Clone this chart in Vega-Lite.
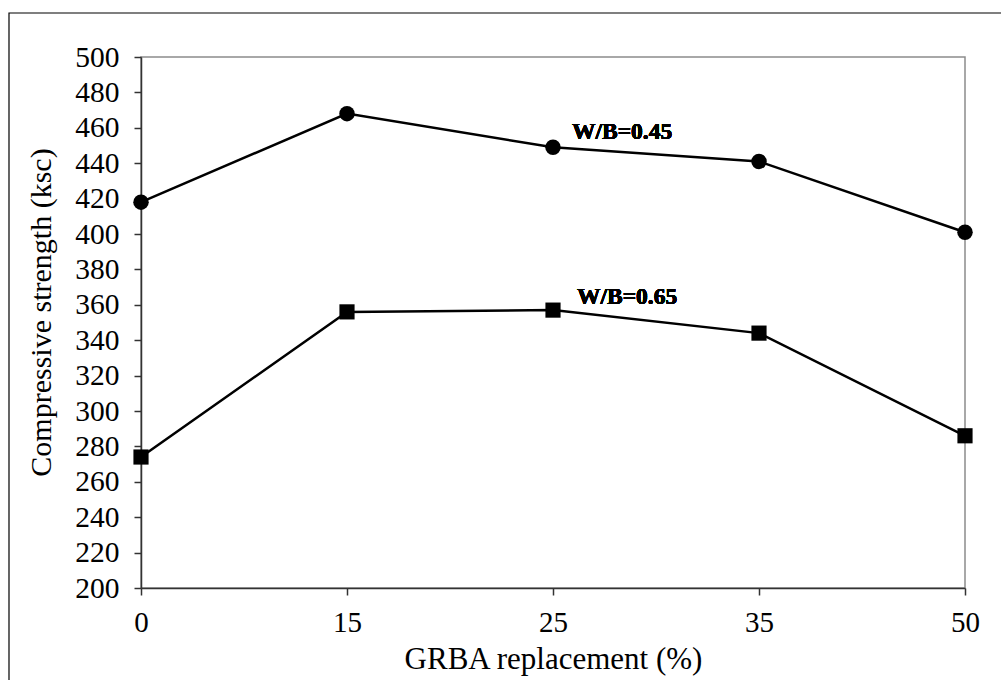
{
  "$schema": "https://vega.github.io/schema/vega-lite/v6.json",
  "width": 824,
  "height": 531,
  "autosize": {"type": "none"},
  "padding": {"left": 141, "top": 57, "right": 36, "bottom": 92},
  "background": "white",
  "config": {
    "font": "Liberation Serif",
    "view": {"stroke": "#8c8c8c", "strokeWidth": 1.5}
  },
  "datasets": {
    "strength": [
      {"replacement": 0, "series": "W/B=0.45", "strength": 418},
      {"replacement": 15, "series": "W/B=0.45", "strength": 468},
      {"replacement": 25, "series": "W/B=0.45", "strength": 449},
      {"replacement": 35, "series": "W/B=0.45", "strength": 441},
      {"replacement": 50, "series": "W/B=0.45", "strength": 401},
      {"replacement": 0, "series": "W/B=0.65", "strength": 274},
      {"replacement": 15, "series": "W/B=0.65", "strength": 356},
      {"replacement": 25, "series": "W/B=0.65", "strength": 357},
      {"replacement": 35, "series": "W/B=0.65", "strength": 344},
      {"replacement": 50, "series": "W/B=0.65", "strength": 286}
    ]
  },
  "resolve": {"scale": {"x": "independent", "y": "independent"}},
  "layer": [
    {
      "data": {"values": [{}]},
      "mark": {"type": "rect", "fill": null, "stroke": "black", "strokeWidth": 1.2, "clip": false},
      "encoding": {
        "x": {"datum": -0.1602, "type": "quantitative", "scale": {"domain": [0, 1]}, "axis": null},
        "x2": {"datum": 1.2},
        "y": {"datum": 1.0829, "type": "quantitative", "scale": {"domain": [0, 1]}, "axis": null},
        "y2": {"datum": -0.2}
      }
    },
    {
      "data": {"name": "strength"},
      "encoding": {
        "x": {
          "field": "replacement",
          "type": "ordinal",
          "scale": {"type": "point", "padding": 0},
          "axis": {
            "title": "GRBA replacement (%)", "labelAngle": 0, "labelPadding": 13, "titlePadding": 7,
            "labelFont": "Liberation Serif", "titleFont": "Liberation Serif", "labelFontSize": 29, "titleFontSize": 31,
            "titleFontWeight": "normal", "labelColor": "black", "titleColor": "black",
            "domainColor": "#333333", "domainWidth": 1.5, "tickColor": "#333333", "tickWidth": 1.5, "tickSize": 7, "grid": false
          }
        },
        "y": {
          "field": "strength",
          "type": "quantitative",
          "scale": {"domain": [200, 500], "nice": false},
          "axis": {
            "title": "Compressive strength (ksc)", "values": [200,220,240,260,280,300,320,340,360,380,400,420,440,460,480,500],
            "labelPadding": 15, "titlePadding": 18, "titleY": 255, "labelOverlap": false, "labelFlush": false,
            "labelFont": "Liberation Serif", "titleFont": "Liberation Serif", "labelFontSize": 29.5, "titleFontSize": 30,
            "titleFontWeight": "normal", "labelColor": "black", "titleColor": "black",
            "domainColor": "#333333", "domainWidth": 1.5, "tickColor": "#333333", "tickWidth": 1.5, "tickSize": 7, "grid": false
          }
        }
      },
      "layer": [
        {
          "mark": {"type": "line", "color": "black", "strokeWidth": 2.5},
          "encoding": {"detail": {"field": "series"}}
        },
        {
          "mark": {"type": "point", "filled": true, "color": "black", "opacity": 1},
          "encoding": {
            "shape": {"field": "series", "type": "nominal", "scale": {"domain": ["W/B=0.45", "W/B=0.65"], "range": ["circle", "square"]}, "legend": null},
            "size": {"field": "series", "type": "nominal", "scale": {"domain": ["W/B=0.45", "W/B=0.65"], "range": [240, 230]}, "legend": null}
          }
        },
        {
          "mark": {"type": "text", "font": "Liberation Serif", "fontWeight": "bold", "fontSize": 23.5, "align": "left", "baseline": "middle", "dx": 19, "color": "black"},
          "encoding": {
            "x": {"datum": 25, "type": "ordinal"},
            "y": {"datum": 457.6, "type": "quantitative"},
            "text": {"value": "W/B=0.45"}
          }
        },
        {
          "mark": {"type": "text", "font": "Liberation Serif", "fontWeight": "bold", "fontSize": 23.5, "align": "left", "baseline": "middle", "dx": 24, "color": "black"},
          "encoding": {
            "x": {"datum": 25, "type": "ordinal"},
            "y": {"datum": 364.4, "type": "quantitative"},
            "text": {"value": "W/B=0.65"}
          }
        }
      ]
    }
  ]
}
